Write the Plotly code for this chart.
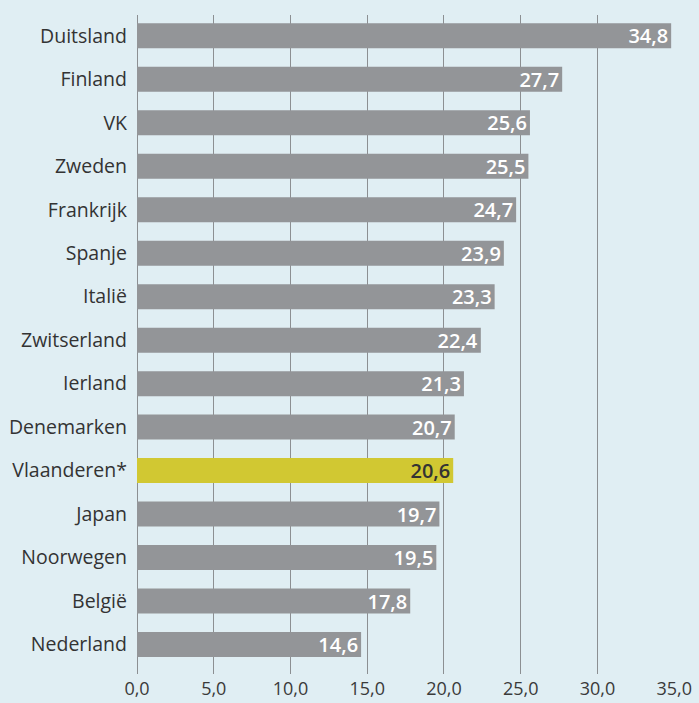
import plotly.graph_objects as go

countries = ["Duitsland", "Finland", "VK", "Zweden", "Frankrijk", "Spanje", "Italië",
             "Zwitserland", "Ierland", "Denemarken", "Vlaanderen*", "Japan", "Noorwegen",
             "België", "Nederland"]
values = [34.8, 27.7, 25.6, 25.5, 24.7, 23.9, 23.3, 22.4, 21.3, 20.7, 20.6, 19.7, 19.5, 17.8, 14.6]
highlight = "Vlaanderen*"

GRAY = "#939598"
YELLOW = "#d1c832"
BG = "#e0eef3"

bar_colors = [YELLOW if c == highlight else GRAY for c in countries]
text_colors = ["#333333" if c == highlight else "#ffffff" for c in countries]
labels = [f"{v:.1f}".replace(".", ",") for v in values]

fig = go.Figure(go.Bar(
    x=values, y=countries, orientation="h",
    marker=dict(color=bar_colors, line=dict(width=0)),
    width=0.575,
    text=labels, textposition="inside", insidetextanchor="end",
    constraintext="none",
    textfont=dict(family="Open Sans", size=20, color=text_colors, weight=600),
    cliponaxis=False,
))

fig.update_layout(
    width=699, height=703,
    paper_bgcolor=BG, plot_bgcolor=BG,
    margin=dict(l=137, r=24, t=15, b=29),
    separators=",.",
    showlegend=False,
    font=dict(family="Open Sans", color="#333333"),
)
fig.update_xaxes(
    range=[0, 35.05], tickvals=[0, 5, 10, 15, 20, 25, 30, 35], tickformat=".1f",
    showgrid=True, gridcolor="#8c8f92", gridwidth=1.3,
    zeroline=True, zerolinecolor="#8c8f92", zerolinewidth=1.3,
    showline=False, ticks="", ticklabelstandoff=2, automargin=False,
    tickfont=dict(family="Open Sans", size=18, color="#3a3a3a"),
)
fig.update_yaxes(
    categoryorder="array", categoryarray=countries,
    range=[14.678, -0.478],
    showgrid=False, zeroline=False, showline=False, ticks="",
    ticklabelstandoff=9, automargin=False,
    tickfont=dict(family="Open Sans", size=19.5, color="#333333"),
)

fig.write_html("out.html", config={"displayModeBar": False},
               post_script="document.body.style.margin='0';")
